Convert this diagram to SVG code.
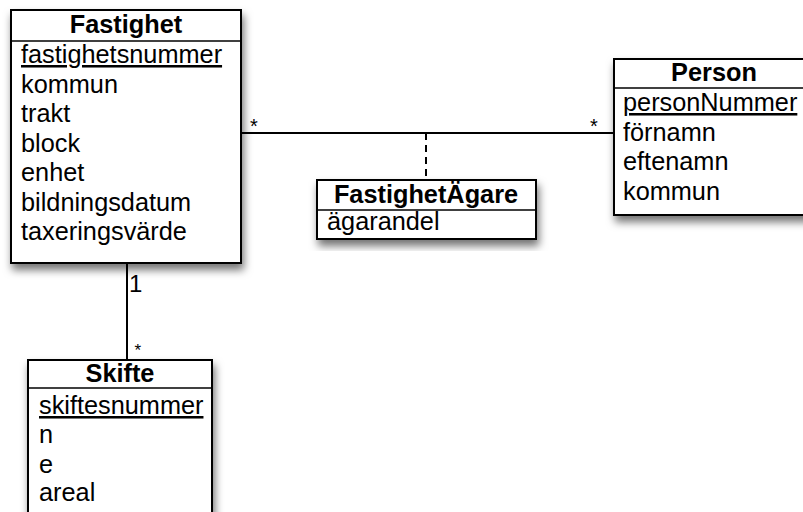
<svg xmlns="http://www.w3.org/2000/svg" width="803" height="512" viewBox="0 0 803 512">
<defs>
<filter id="sh" x="-10%" y="-10%" width="130%" height="130%">
<feDropShadow dx="2" dy="6" stdDeviation="4.5" flood-color="#000" flood-opacity="0.55"/>
</filter>
<style>
.box{fill:#fff;stroke:#000;stroke-width:2}
.sep{stroke:#000;stroke-width:1.5}
.t{font-family:"Liberation Sans",Arial,sans-serif;font-size:25.3px;fill:#000}
.h{font-family:"Liberation Sans",Arial,sans-serif;font-size:25.3px;font-weight:bold;fill:#000;text-anchor:middle}
.m{font-family:"Liberation Sans",Arial,sans-serif;font-size:20px;fill:#000}
.s{font-family:"Liberation Sans",Arial,sans-serif;font-size:17px;fill:#000}
.one{font-family:"Liberation Sans",Arial,sans-serif;font-size:24px;fill:#000}
.ln{stroke:#000;stroke-width:2;fill:none}
</style>
</defs>
<rect width="803" height="512" fill="#fff"/>
<g id="connectors">
<line class="ln" x1="241" y1="133" x2="614" y2="133"/>
<line class="ln" x1="426" y1="133" x2="426" y2="180" stroke-dasharray="7,5"/>
<line class="ln" x1="127" y1="263" x2="127" y2="360"/>
<text class="m" x="250" y="133">*</text>
<text class="m" x="590" y="133">*</text>
<text class="one" x="129" y="292">1</text>
<text class="s" x="134.5" y="356">*</text>
</g>
<g id="Fastighet">
<rect class="box" x="11" y="10" width="230" height="253" filter="url(#sh)"/>
<line class="sep" x1="11" y1="41" x2="241" y2="41"/>
<text class="h" x="126" y="33">Fastighet</text>
<text class="t" x="21" y="63" text-decoration="underline">fastighetsnummer</text>
<text class="t" x="21" y="92.5">kommun</text>
<text class="t" x="21" y="122">trakt</text>
<text class="t" x="21" y="151.5">block</text>
<text class="t" x="21" y="181">enhet</text>
<text class="t" x="21" y="210.5">bildningsdatum</text>
<text class="t" x="21" y="240">taxeringsvärde</text>
</g>
<g id="Person">
<rect class="box" x="614" y="59" width="200" height="156" filter="url(#sh)"/>
<line class="sep" x1="614" y1="88" x2="814" y2="88"/>
<text class="h" x="714" y="81">Person</text>
<text class="t" x="623" y="111" text-decoration="underline">personNummer</text>
<text class="t" x="623" y="140.5">förnamn</text>
<text class="t" x="623" y="170">eftenamn</text>
<text class="t" x="623" y="199.5">kommun</text>
</g>
<g id="FastighetAgare">
<rect class="box" x="317" y="180" width="219" height="59" filter="url(#sh)"/>
<line class="sep" x1="317" y1="210" x2="536" y2="210"/>
<text class="h" x="426" y="203">FastighetÄgare</text>
<text class="t" x="327" y="230">ägarandel</text>
</g>
<g id="Skifte">
<rect class="box" x="28" y="360" width="184" height="170" filter="url(#sh)"/>
<line class="sep" x1="28" y1="388" x2="212" y2="388"/>
<text class="h" x="120" y="382">Skifte</text>
<text class="t" x="39" y="414" text-decoration="underline">skiftesnummer</text>
<text class="t" x="39" y="443">n</text>
<text class="t" x="39" y="472.5">e</text>
<text class="t" x="39" y="501">areal</text>
</g>
</svg>
